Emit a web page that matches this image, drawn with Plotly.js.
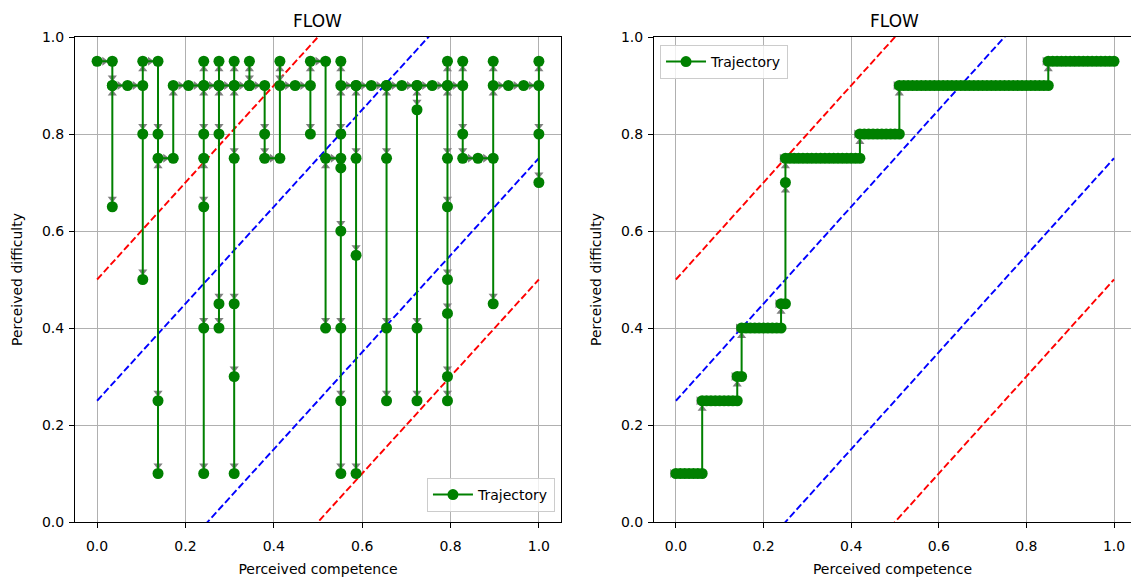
<!DOCTYPE html>
<html>
<head>
<meta charset="utf-8">
<script src="https://cdn.plot.ly/plotly-3.0.1.min.js"></script>
<style>
  html, body { margin: 0; padding: 0; background: #fff; }
  #chart { width: 1131px; height: 583px; }
</style>
</head>
<body>
<div id="chart"></div>
<script>
// ---------- data ----------
const chartTitle = 'FLOW';
const xLabel = 'Perceived competence';
const yLabel = 'Perceived difficulty';
const seriesName = 'Trajectory';
const tickValues = [0, 0.2, 0.4, 0.6, 0.8, 1.0];
const tickLabels = ['0.0', '0.2', '0.4', '0.6', '0.8', '1.0'];

// boundary lines (x endpoints and y endpoints)
const boundaryX = [0, 1];
const redUpperY = [0.5, 1.5];
const blueUpperY = [0.25, 1.25];
const blueLowerY = [-0.25, 0.75];
const redLowerY = [-0.5, 0.5];

// left panel trajectory (competence, difficulty), in visiting order
const leftCompetence = [
  0.0,
  0.0345, 0.0345, 0.0345, 0.0345,
  0.069,
  0.1034, 0.1034, 0.1034, 0.1034,
  0.1379, 0.1379, 0.1379, 0.1379, 0.1379,
  0.1724, 0.1724,
  0.2069,
  0.2414, 0.2414, 0.2414, 0.2414, 0.2414, 0.2414, 0.2414, 0.2414,
  0.2759, 0.2759, 0.2759, 0.2759, 0.2759, 0.2759,
  0.3103, 0.3103, 0.3103, 0.3103, 0.3103, 0.3103, 0.3103,
  0.3448, 0.3448, 0.3448,
  0.3793, 0.3793, 0.3793,
  0.4138, 0.4138, 0.4138,
  0.4483,
  0.4828, 0.4828, 0.4828,
  0.5172, 0.5172, 0.5172,
  0.5517, 0.5517, 0.5517, 0.5517, 0.5517, 0.5517, 0.5517, 0.5517, 0.5517,
  0.5862, 0.5862, 0.5862, 0.5862, 0.5862,
  0.6207,
  0.6552, 0.6552, 0.6552, 0.6552, 0.6552,
  0.6897,
  0.7241, 0.7241, 0.7241, 0.7241, 0.7241,
  0.7586,
  0.7931, 0.7931, 0.7931, 0.7931, 0.7931, 0.7931, 0.7931, 0.7931, 0.7931,
  0.8276, 0.8276, 0.8276, 0.8276,
  0.8621,
  0.8966, 0.8966, 0.8966, 0.8966,
  0.931,
  0.9655,
  1.0, 1.0, 1.0, 1.0
];
const leftDifficulty = [
  0.95,
  0.95, 0.9, 0.65, 0.9,
  0.9,
  0.9, 0.8, 0.5, 0.95,
  0.95, 0.8, 0.25, 0.1, 0.75,
  0.75, 0.9,
  0.9,
  0.9, 0.95, 0.8, 0.65, 0.4, 0.1, 0.75, 0.9,
  0.9, 0.95, 0.8, 0.45, 0.4, 0.9,
  0.9, 0.95, 0.75, 0.45, 0.3, 0.1, 0.9,
  0.9, 0.95, 0.9,
  0.9, 0.8, 0.75,
  0.75, 0.95, 0.9,
  0.9,
  0.9, 0.8, 0.95,
  0.95, 0.4, 0.75,
  0.75, 0.95, 0.8, 0.73, 0.6, 0.4, 0.25, 0.1, 0.9,
  0.9, 0.75, 0.55, 0.1, 0.9,
  0.9,
  0.9, 0.75, 0.4, 0.25, 0.9,
  0.9,
  0.9, 0.85, 0.4, 0.25, 0.9,
  0.9,
  0.9, 0.95, 0.75, 0.65, 0.5, 0.43, 0.3, 0.25, 0.9,
  0.9, 0.95, 0.8, 0.75,
  0.75,
  0.75, 0.95, 0.45, 0.9,
  0.9,
  0.9,
  0.9, 0.95, 0.8, 0.7
];

// right panel trajectory (competence, difficulty), in visiting order
const rightCompetence = [
  0.00, 0.01, 0.02, 0.03, 0.04, 0.05, 0.06,
  0.06, 0.07, 0.08, 0.09, 0.10, 0.11, 0.12, 0.13, 0.14,
  0.14, 0.15,
  0.15, 0.16, 0.17, 0.18, 0.19, 0.20, 0.21, 0.22, 0.23, 0.24,
  0.24, 0.25,
  0.25,
  0.25, 0.26, 0.27, 0.28, 0.29, 0.30, 0.31, 0.32, 0.33, 0.34, 0.35, 0.36, 0.37, 0.38, 0.39, 0.40, 0.41, 0.42,
  0.42, 0.43, 0.44, 0.45, 0.46, 0.47, 0.48, 0.49, 0.50, 0.51,
  0.51, 0.52, 0.53, 0.54, 0.55, 0.56, 0.57, 0.58, 0.59, 0.60, 0.61, 0.62, 0.63, 0.64, 0.65, 0.66, 0.67, 0.68,
  0.69, 0.70, 0.71, 0.72, 0.73, 0.74, 0.75, 0.76, 0.77, 0.78, 0.79, 0.80, 0.81, 0.82, 0.83, 0.84, 0.85,
  0.85, 0.86, 0.87, 0.88, 0.89, 0.90, 0.91, 0.92, 0.93, 0.94, 0.95, 0.96, 0.97, 0.98, 0.99, 1.00
];
const rightDifficulty = [
  0.1, 0.1, 0.1, 0.1, 0.1, 0.1, 0.1,
  0.25, 0.25, 0.25, 0.25, 0.25, 0.25, 0.25, 0.25, 0.25,
  0.3, 0.3,
  0.4, 0.4, 0.4, 0.4, 0.4, 0.4, 0.4, 0.4, 0.4, 0.4,
  0.45, 0.45,
  0.7,
  0.75, 0.75, 0.75, 0.75, 0.75, 0.75, 0.75, 0.75, 0.75, 0.75, 0.75, 0.75, 0.75, 0.75, 0.75, 0.75, 0.75, 0.75,
  0.8, 0.8, 0.8, 0.8, 0.8, 0.8, 0.8, 0.8, 0.8, 0.8,
  0.9, 0.9, 0.9, 0.9, 0.9, 0.9, 0.9, 0.9, 0.9, 0.9, 0.9, 0.9, 0.9, 0.9, 0.9, 0.9, 0.9, 0.9,
  0.9, 0.9, 0.9, 0.9, 0.9, 0.9, 0.9, 0.9, 0.9, 0.9, 0.9, 0.9, 0.9, 0.9, 0.9, 0.9, 0.9,
  0.95, 0.95, 0.95, 0.95, 0.95, 0.95, 0.95, 0.95, 0.95, 0.95, 0.95, 0.95, 0.95, 0.95, 0.95, 0.95
];

// ---------- styling ----------
const FONT = 'DejaVu Sans, Liberation Sans, sans-serif';
const GREEN = '#008000';
const RED = '#ff0000';
const BLUE = '#0000ff';
const ARROW = '#808080';

// pixel scale of each panel (used only to orient the arrowheads)
const PX_PER_X = [441, 438];
const PX_PER_Y = 485;

function boundaryTraces(xa, ya) {
  const defs = [[redUpperY, RED], [blueUpperY, BLUE], [blueLowerY, BLUE], [redLowerY, RED]];
  return defs.map(([ys, c]) => ({
    x: boundaryX, y: ys, xaxis: xa, yaxis: ya,
    mode: 'lines', type: 'scatter', showlegend: false, hoverinfo: 'skip',
    line: { color: c, width: 1.9, dash: '7px,3px' }
  }));
}

function trajectoryTraces(xs, ys, xa, ya, legendId, panel) {
  // arrowheads pointing along each step of the path (derived from data order)
  const ax = [], ay = [], ang = [];
  for (let i = 1; i < xs.length; i++) {
    const dx = (xs[i] - xs[i - 1]) * PX_PER_X[panel];
    const dy = (ys[i] - ys[i - 1]) * PX_PER_Y;
    if (dx === 0 && dy === 0) continue;
    ax.push(xs[i]); ay.push(ys[i]);
    ang.push(Math.atan2(dx, dy) * 180 / Math.PI);
  }
  return [
    {
      x: ax, y: ay, xaxis: xa, yaxis: ya, type: 'scatter', mode: 'markers',
      showlegend: false, hoverinfo: 'skip',
      marker: { color: ARROW, size: 8, symbol: 'triangle-up', angle: ang, standoff: 8,
                line: { width: 0 } }
    },
    {
      x: xs, y: ys, xaxis: xa, yaxis: ya, type: 'scatter', mode: 'lines+markers',
      name: seriesName, legend: legendId, showlegend: true,
      line: { color: GREEN, width: 2 },
      marker: { color: GREEN, size: 11, symbol: 'circle' }
    }
  ];
}

const data = [].concat(
  boundaryTraces('x', 'y'),
  trajectoryTraces(leftCompetence, leftDifficulty, 'x', 'y', 'legend', 0),
  boundaryTraces('x2', 'y2'),
  trajectoryTraces(rightCompetence, rightDifficulty, 'x2', 'y2', 'legend2', 1)
);

function axisBase() {
  return {
    tickvals: tickValues, ticktext: tickLabels,
    ticks: 'outside', ticklen: 5, tickwidth: 1, tickcolor: '#000',
    showline: true, linecolor: '#000', linewidth: 1,
    showgrid: true, gridcolor: '#b0b0b0', gridwidth: 1,
    zeroline: false, automargin: false,
    tickfont: { family: FONT, size: 14, color: '#000' },
    fixedrange: true
  };
}

const layout = {
  width: 1131, height: 583,
  margin: { l: 75, r: 0, t: 37, b: 61 },
  paper_bgcolor: '#fff', plot_bgcolor: '#fff',
  font: { family: FONT, size: 14, color: '#000' },
  xaxis: Object.assign(axisBase(), {
    domain: [0, 0.4602], range: [-0.05, 1.05], anchor: 'y', mirror: true, ticklabelstandoff: 6,
    title: { text: xLabel, font: { family: FONT, size: 14, color: '#000' }, standoff: 11 }
  }),
  yaxis: Object.assign(axisBase(), {
    domain: [0, 1], range: [0, 1], anchor: 'x', mirror: true, ticklabelstandoff: 2,
    title: { text: yLabel, font: { family: FONT, size: 14, color: '#000' }, standoff: 16 }
  }),
  xaxis2: Object.assign(axisBase(), {
    domain: [0.5483, 1], range: [-0.05, 1.0388], anchor: 'y2', mirror: true, ticklabelstandoff: 6,
    title: { text: xLabel, font: { family: FONT, size: 14, color: '#000' }, standoff: 11 }
  }),
  yaxis2: Object.assign(axisBase(), {
    domain: [0, 1], range: [0, 1], anchor: 'x2', mirror: false, ticklabelstandoff: 2,
    title: { text: yLabel, font: { family: FONT, size: 14, color: '#000' }, standoff: 16 }
  }),
  legend: {
    x: 0.4545, y: 0.0206, xanchor: 'right', yanchor: 'bottom',
    bgcolor: 'rgba(255,255,255,0.8)', bordercolor: '#cccccc', borderwidth: 1,
    font: { family: FONT, size: 14, color: '#000' }, itemwidth: 40
  },
  legend2: {
    x: 0.554, y: 0.9835, xanchor: 'left', yanchor: 'top',
    bgcolor: 'rgba(255,255,255,0.8)', bordercolor: '#cccccc', borderwidth: 1,
    font: { family: FONT, size: 14, color: '#000' }, itemwidth: 40
  },
  annotations: [
    { text: chartTitle, xref: 'paper', yref: 'paper', x: 0.2301, y: 1, xanchor: 'center', yanchor: 'bottom',
      yshift: 4, showarrow: false, font: { family: FONT, size: 17, color: '#000' } },
    { text: chartTitle, xref: 'paper', yref: 'paper', x: 0.7765, y: 1, xanchor: 'center', yanchor: 'bottom',
      yshift: 4, showarrow: false, font: { family: FONT, size: 17, color: '#000' } }
  ]
};

Plotly.newPlot('chart', data, layout, { displayModeBar: false, staticPlot: true });
</script>
</body>
</html>
